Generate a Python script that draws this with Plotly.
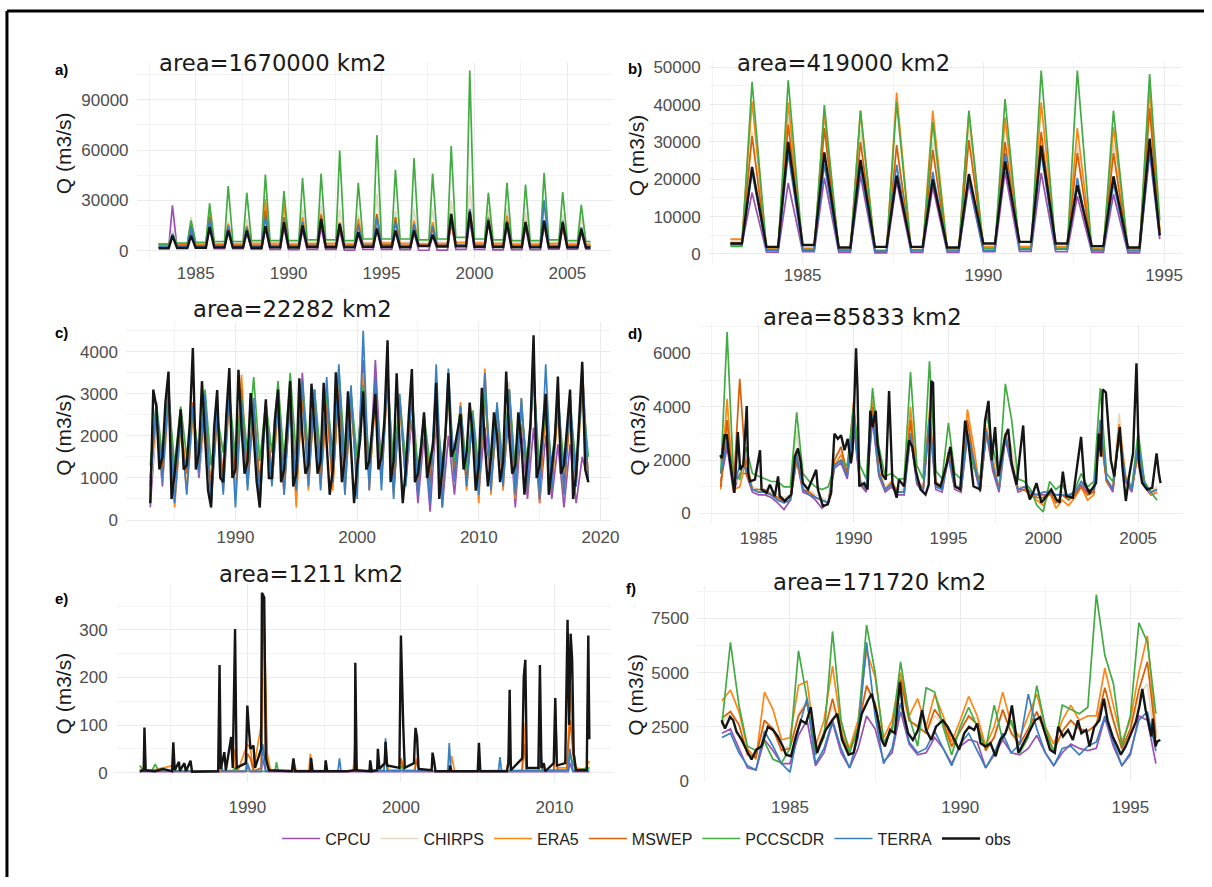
import numpy as np
import plotly.graph_objects as go

W, H = 1212, 887

SERIES = ["CPCU", "CHIRPS", "ERA5", "MSWEP", "PCCSCDR", "TERRA", "obs"]
COLORS = ["#9b51b0", "#e2d9c6", "#ff8614", "#d95f02", "#42ab42", "#3a7fc1", "#151515"]
WIDTHS = [1.7, 1.7, 1.7, 1.7, 1.7, 1.7, 2.4]

# ---------------- panel a (annual low / peak readings) ----------------
A_YEARS = list(range(1983, 2006))
A_PEAK_CPCU = [27000,12000,15000,12000,11000,14000,14000,12000,14000,12000,10000,14000,12000,11000,9000,17000,18000,21000,15000,14000,15000,14000,11000]
A_LOW_CPCU = [2500,1500,1500,1200,1200,1000,800,600,800,800,400,800,800,600,300,400,800,800,500,600,600,1000,1000,1000]
A_PEAK_CHIRPS = [12000,20000,25000,18000,19000,27000,27000,25000,27000,25000,22000,34000,24000,25000,25000,30000,39000,25000,25000,23000,27000,22000,20000]
A_LOW_CHIRPS = [4200,4000,4200,4500,4500,4800,4800,4500,5000,4800,4500,5000,5200,5000,4500,5000,5500,5200,5000,4800,4800,5000,4800,4500]
A_PEAK_ERA5 = [9000,17000,24800,16000,15000,31000,28000,20000,22000,17000,19000,21000,19000,18000,17000,17000,24000,20000,21000,18000,17000,15000,12000]
A_LOW_ERA5 = [4000,3500,3800,4000,4000,4200,4200,4000,4300,4200,4000,4300,4500,4200,4000,4300,4800,4500,4200,4000,4000,4200,4000,3800]
A_PEAK_MSWEP = [8000,16000,20000,14000,13000,24000,20000,17000,21000,15000,16000,22000,20000,16000,13000,16000,22000,19000,18000,16000,16000,14000,12000]
A_LOW_MSWEP = [3500,3000,3000,3200,3000,3200,3200,3000,3300,3200,3000,3300,3500,3200,3000,3300,3600,3400,3200,3000,3000,3200,3000,2800]
A_PEAK_PCC = [10000,18000,28200,38500,34600,45400,35600,43400,46000,59700,40500,68900,48300,55200,46000,62400,107400,34600,40500,39500,46400,35000,27400]
A_LOW_PCC = [4000,4500,5000,5500,5500,6000,6000,6000,6500,6500,6000,7000,7000,7000,6500,7000,8000,7000,6500,6000,6000,6500,6000,5500]
A_PEAK_TERRA = [10000,14000,18000,15000,14000,20000,18000,17000,19000,16000,15000,20000,17000,16000,15000,22000,25000,19000,18000,17000,30000,18000,14000]
A_LOW_TERRA = [2500,2500,2600,2800,2700,2800,2800,2600,3000,2900,2700,3000,3000,2900,2700,3000,3300,3000,2900,2700,2700,2900,2700,2500]
A_PEAK_OBS = [9000,9000,14100,12100,12100,14700,17000,15100,19000,16000,11100,13100,12100,12100,9500,21900,23300,18000,17000,17000,18000,17000,13100]
A_LOW_OBS = [1500,1600,1800,2000,1900,1800,2000,1900,2200,2100,2000,2300,2200,2100,2800,2500,2600,2400,2200,2100,2000,2100,2000,1900]

# ---------------- panel b (annual low / peak readings, last low = end value) ----------------
B_YEARS = list(range(1983, 1995))
B_PEAK_CPCU = [16400,19000,20400,21000,19500,18000,19000,22000,21700,15500,16000,27000]
B_LOW_CPCU = [2500,500,600,400,300,400,400,600,700,600,400,300,4000]
B_PEAK_CHIRPS = [32700,37000,33000,33500,28300,30000,34400,35300,31800,29200,29200,39700]
B_LOW_CHIRPS = [3500,1500,1500,1200,1000,1200,1500,2000,2000,2000,1500,1500,6000]
B_PEAK_ERA5 = [40800,40600,37500,38400,43200,38400,37900,36600,40600,33700,34000,44300]
B_LOW_ERA5 = [4000,1500,1500,1200,1000,1200,1500,2000,2000,2000,1500,1500,6500]
B_PEAK_MSWEP = [31600,34600,33700,30000,29200,27800,30500,30000,32700,27000,27000,39000]
B_LOW_MSWEP = [3000,1000,1200,1000,800,1000,1000,1500,1500,1500,1000,1000,6000]
B_PEAK_PCC = [46100,46500,39900,38400,40600,35300,38400,41500,49100,49100,38400,48200]
B_LOW_PCC = [2000,1200,1200,1000,800,1000,1000,1500,1500,1500,1200,1000,9000]
B_PEAK_TERRA = [22000,27000,24000,23000,23900,22000,20000,27000,27000,20400,19000,28000]
B_LOW_TERRA = [2500,1000,1000,800,700,800,800,1000,1200,1200,800,800,5000]
B_PEAK_OBS = [23300,30000,27200,25200,21000,20000,21400,24800,29000,18450,20800,30900]
B_LOW_OBS = [2800,1900,2400,1750,1900,1900,1750,2800,3250,2800,2100,1750,5000]

# ---------------- panel c (half-yearly readings from 1983.0; obs quarterly) ----------------
C_START = 1983.0
C_CPCU = [300,2400,800,3300,700,2200,900,2600,1000,2500,600,2400,900,3100,800,2900,900,2700,700,2600,900,2700,700,3000,800,3500,900,3100,900,2900,800,3300,800,3000,1000,3800,800,3800,1100,3700,700,2800,900,2400,400,2000,200,2400,300,2000,600,2300,1000,2400,700,2200,900,2300,1000,2500,300,2300,500,2200,400,2000,500,1800,300,1800,400,1500,900]
C_CHIRPS = [700,2200,900,2500,700,2100,900,2300,1100,2400,700,2200,900,2600,900,2700,900,2500,800,2400,1000,2500,900,2600,900,2700,1000,2700,1000,2600,1000,2900,900,2500,1100,3000,1000,2700,1100,3000,900,2600,1000,2700,900,2300,800,2600,1000,2800,1200,2800,1000,2400,900,2900,900,2500,1000,3300,800,2600,900,3300,700,2500,900,2500,800,2400,900,3000,1000]
C_ERA5 = [900,2400,1000,2800,300,2200,700,2500,1200,2600,500,2400,700,3000,600,3450,800,2600,700,2800,900,2600,600,2900,300,3200,700,3000,800,2700,700,3300,600,2900,800,3500,700,3000,900,3300,600,2900,900,3000,700,2400,800,2900,600,3100,900,2800,700,2600,400,3600,600,2700,700,3000,500,2900,700,3800,400,2800,700,2600,600,2500,800,3700,900]
C_MSWEP = [1000,2600,1200,2900,900,2300,1100,2800,1300,2700,700,2500,1000,2900,1100,3100,1000,2700,900,2600,1100,2700,900,2800,900,2900,1000,2900,1000,2800,900,3100,900,2700,1100,3200,1000,2900,1000,3300,800,2800,1000,2900,1000,2500,900,2800,1000,3000,1200,2600,900,2500,800,3000,900,2600,1000,3100,900,2700,1000,3500,800,2600,1000,2700,800,2600,1000,3100,1000]
C_PCC = [1300,2800,1500,3000,1300,2700,1500,2600,1500,3100,1300,2500,1600,3000,1500,2900,1600,3400,1400,2800,1600,3300,1400,3500,1500,3300,1600,3100,1500,3000,1600,3600,1500,3000,1500,3200,1400,2900,1400,3300,1300,2900,1400,3000,1200,2500,1300,2700,1300,2900,1400,2700,1200,2600,1200,3000,1300,2700,1300,3100,1200,2600,1300,3400,1200,2700,1300,2900,1300,2700,1300,3100,1500]
C_TERRA = [800,2800,900,3000,400,2300,600,2700,1100,3000,300,2600,600,3100,300,2800,700,2900,300,2700,800,3000,600,2900,700,3300,800,3100,700,3400,900,3700,600,3200,500,4500,700,3400,700,3500,500,3000,800,3100,600,2500,400,3700,300,3600,900,2700,800,2500,600,3500,700,2800,800,3100,600,2900,700,3600,500,3700,700,3200,600,3000,800,3600,900]
C_OBS = [400,3100,2700,1200, 1500,2800,3530,500, 1100,1800,2630,1200, 1300,2300,4090,1200,
         1600,3300,1900,700, 300,2200,3090,1000, 900,2500,3610,1000, 1200,3570,2200,1100,
         1400,3020,2000,900, 300,1800,2870,1000, 1000,2400,3100,900, 1200,2200,3300,800,
         1100,3370,2000,1100, 1300,3240,2200,1100, 1400,3260,1800,600, 1200,3510,2400,900,
         1500,3060,1700,400, 1300,1900,3060,1200, 1400,2200,3000,1200, 1500,2400,4270,900,
         1400,3490,1700,400, 1200,2500,3590,900, 1100,1700,2560,1000, 1400,1800,3260,500,
         1200,2000,3490,1500, 1700,2100,2520,1200, 1600,2790,2000,700, 1300,3140,1800,800,
         1500,2560,2000,900, 1400,3530,2000,1100, 1300,2560,1800,600, 1500,2300,4390,1000,
         1300,2200,3000,600, 1200,1900,3410,1100, 1300,2200,3100,500, 1100,2400,3760,1200, 900]

# ---------------- panel d (readings every 4 months from 1983.0; obs at read dates) ----------------
D_START = 1983.0
D_CPCU = [1200,2500,800,1500,1500,800,700,700,600,400,150,500,2000,800,700,500,200,400,1700,1900,1300,3300,1100,800,3500,1400,800,1000,700,700,2900,1100,800,3400,900,800,2100,900,800,2900,1800,800,3000,1600,800,2800,1700,800,900,700,700,700,700,700,700,700,700,1100,800,800,3300,1200,800,3000,1200,800,2400,1000,700,800]
D_CHIRPS = [2000,3300,1100,1300,2200,1000,900,900,800,700,600,700,3100,1000,900,700,600,500,2200,2300,1500,3800,1300,1000,4500,1700,1000,1200,900,900,3700,1300,1000,4000,1200,1000,2400,1100,1000,3300,2200,1000,3300,2200,1000,3000,2500,1000,1000,800,700,800,900,700,800,700,800,1200,900,900,3500,1300,1000,3750,1500,1000,2500,1200,800,1000]
D_ERA5 = [900,4300,900,1000,2000,900,800,800,700,600,500,600,2300,900,800,600,500,400,1800,2200,1500,4200,1200,900,4200,1600,900,1200,800,800,4000,1300,900,3800,1200,900,2300,1000,900,3900,2500,900,3200,2000,900,3000,2000,900,900,700,500,300,800,200,500,300,600,1000,500,700,3300,1200,900,3350,1400,900,2400,1200,700,800]
D_MSWEP = [1000,3500,900,5050,1500,900,900,900,700,600,400,500,2000,900,800,600,500,400,2000,2500,1500,4000,1200,900,4000,1500,900,1100,800,800,3500,1200,900,3600,1100,900,2300,1000,900,3500,2000,900,3000,1800,900,3000,1800,900,900,700,600,600,800,400,700,500,700,1000,700,800,3000,1200,900,3200,1300,900,2300,1100,800,900]
D_PCC = [1500,6800,1500,1300,2500,1500,1400,1300,1200,1200,1000,1000,3790,1500,1200,1000,900,1000,1800,2000,1800,4000,1800,1300,4700,2500,1400,1500,1300,1300,5300,1800,1300,5700,1600,1300,3400,1500,1300,3000,1700,1300,3790,2500,1400,4860,3500,1300,1200,900,300,60,1200,900,1100,600,900,1500,1000,1200,4690,1500,1200,2800,1300,1000,3050,1200,800,500]
D_TERRA = [1500,2700,1000,1800,1700,900,800,800,700,500,400,500,2200,900,700,600,500,400,1800,2000,1400,3500,1200,900,3700,1500,900,1100,800,800,3000,1200,900,3600,1000,900,2200,1000,900,3000,2000,900,3100,1800,900,2900,1800,900,1000,800,700,800,800,700,700,700,800,1200,900,900,3500,1300,900,3000,1300,900,2600,1100,800,900]
D_OBS_T = [1982.97,1983.06,1983.20,1983.32,1983.41,1983.58,1983.72,1983.90,1984.02,1984.19,
           1984.37,1984.45,1984.54,1984.80,1985.07,1985.15,1985.41,1985.59,1985.85,1986.02,
           1986.11,1986.37,1986.72,1986.90,1987.07,1987.21,1987.33,1987.60,1988.03,1988.12,
           1988.38,1988.64,1988.82,1988.99,1989.17,1989.34,1989.52,1989.69,1989.86,1989.95,
           1990.13,1990.21,1990.30,1990.56,1990.74,1990.88,1991.00,1991.17,1991.26,1991.52,
           1991.70,1991.87,1992.05,1992.27,1992.39,1992.66,1992.92,1993.09,1993.27,1993.53,
           1993.79,1993.96,1994.09,1994.19,1994.31,1994.58,1994.92,1995.10,1995.36,1995.62,
           1995.88,1996.06,1996.32,1996.67,1996.93,1997.11,1997.28,1997.46,1997.63,1997.98,
           1998.15,1998.33,1998.59,1998.94,1999.11,1999.29,1999.46,1999.64,1999.90,2000.16,
           2000.42,2000.68,2000.86,2001.03,2001.21,2001.56,2001.99,2002.17,2002.43,2002.78,
           2002.92,2003.04,2003.13,2003.30,2003.56,2003.74,2004.03,2004.17,2004.35,2004.52,
           2004.73,2004.91,2005.04,2005.21,2005.48,2005.74,2005.97,2006.09,2006.18]
D_OBS_V = [2190,2070,2930,2930,2370,1510,775,3050,1640,1820,
           4030,1510,1200,1270,2370,900,775,1080,650,1390,
           650,470,710,2130,2435,1940,1140,900,1640,900,
           280,345,775,2990,2800,2930,2370,2800,1880,2370,
           6190,4590,1020,1140,900,3850,3235,3850,2610,1450,
           1270,4590,1140,590,1270,1020,2740,2500,1640,900,
           710,1080,4960,4900,1140,1020,1880,2500,1020,900,
           3480,2620,1020,900,3480,4220,1990,3235,1390,2870,
           3170,1880,1080,3300,1020,530,775,1140,410,650,
           900,530,410,1570,650,590,2870,1140,775,1140,
           2990,2130,4650,4530,2000,1390,3235,1760,470,1390,
           2250,5630,1880,1140,900,960,2250,1510,1140]

# ---------------- panel e (read dates / values) ----------------
E_CPCU_T = [1983.0,1989.9,1990.0,1990.2,1990.9,1991.0,1991.2,2010.9,2011.0,2011.2,2012.27]
E_CPCU_V = [2,2,10,2,2,30,2,2,20,2,2]
E_CHIRPS_T = [1983.0,1990.9,1991.0,1991.1,1991.3,1991.5,2010.9,2011.05,2011.2,2011.4,2012.27]
E_CHIRPS_V = [3,5,100,200,10,3,5,150,60,5,10]
E_ERA5_T = [1983.0,1983.3,1983.5,1985.2,1985.4,1988.1,1988.2,1988.3,1989.1,1989.2,
            1989.4,1990.0,1990.2,1990.4,1990.9,1991.0,1991.1,1991.25,1991.5,1992.9,
            1993.0,1993.2,1994.0,1994.1,1994.2,1996.9,1997.0,1997.15,1998.9,1999.0,
            1999.2,1999.9,2000.0,2000.2,2000.9,2001.0,2001.2,2003.2,2003.3,2003.5,
            2006.9,2007.0,2007.2,2007.9,2008.0,2008.15,2009.0,2009.1,2009.3,2009.95,
            2010.05,2010.2,2010.8,2010.9,2011.05,2011.2,2011.4,2012.1,2012.2,2012.27]
E_ERA5_V = [5,10,3,15,3,3,50,3,5,50,
            5,60,50,5,100,340,300,50,5,3,
            25,3,3,40,3,3,60,3,5,40,
            5,5,30,5,5,30,5,3,35,3,
            3,35,3,5,105,5,5,30,3,5,
            150,10,10,90,180,60,10,5,25,20]
E_MSWEP_T = [1983.0,1985.1,1985.2,1985.3,1988.1,1988.2,1988.3,1989.9,1990.0,1990.2,
             1990.4,1990.9,1990.95,1991.05,1991.15,1991.3,1991.5,1996.9,1997.0,1997.2,
             1999.9,2000.0,2000.2,2000.9,2001.0,2001.2,2007.9,2008.0,2008.2,2009.95,
             2010.05,2010.2,2010.8,2010.9,2011.05,2011.2,2011.4,2012.27]
E_MSWEP_V = [3,3,10,3,3,30,3,3,40,30,
             3,10,150,360,250,20,3,3,30,3,
             3,30,3,3,25,3,3,60,3,3,
             80,5,5,60,110,40,5,10]
E_PCC_T = [1983.0,1983.2,1983.8,1984.0,1984.2,1985.9,1986.0,1986.2,1988.1,1988.2,
           1988.4,1989.1,1989.2,1989.4,1991.8,1991.9,1992.0,1999.9,2000.0,2000.2,
           2010.9,2011.0,2011.15,2011.4,2012.27]
E_PCC_V = [15,5,5,18,5,3,10,3,3,20,
           3,3,10,3,3,22,5,3,15,3,
           5,40,25,5,10]
E_TERRA_T = [1983.0,1988.1,1988.2,1988.4,1989.9,1990.0,1990.2,1990.9,1991.0,1991.2,
             1995.9,1996.0,1996.1,1998.9,1999.0,1999.1,2003.05,2003.15,2003.25,2006.35,
             2006.45,2006.55,2009.0,2009.1,2009.2,2010.9,2011.0,2011.2,2012.27]
E_TERRA_V = [3,3,30,3,3,20,3,3,60,3,
             3,30,3,5,72,5,3,62,3,3,
             33,3,5,55,5,5,50,5,5]
E_OBS_T = [1983.0,1983.25,1983.3,1983.38,1984.0,1984.5,1985.1,1985.18,1985.27,1985.55,
           1985.6,1985.9,1986.0,1986.3,1986.4,1987.5,1988.1,1988.19,1988.27,1988.5,
           1988.6,1988.95,1989.05,1989.2,1989.3,1989.9,1990.0,1990.1,1990.2,1990.4,
           1990.5,1990.9,1990.95,1991.1,1991.2,1991.4,1992.9,1993.0,1993.1,1994.1,
           1994.15,1994.25,1995.05,1995.1,1995.2,1996.5,1997.0,1997.03,1997.12,1997.95,
           1998.0,1998.1,1998.45,1998.5,1998.6,1998.95,1999.0,1999.1,1999.9,2000.0,
           2000.08,2000.15,2000.25,2000.85,2000.9,2000.95,2001.05,2001.15,2002.0,2002.06,
           2002.15,2002.25,2003.15,2003.2,2003.3,2005.0,2005.08,2005.17,2006.9,2007.0,
           2007.08,2007.16,2007.9,2008.0,2008.1,2008.2,2008.95,2009.05,2009.15,2009.3,
           2009.4,2009.95,2010.05,2010.15,2010.7,2010.85,2010.95,2011.05,2011.15,2011.25,
           2011.4,2012.1,2012.2,2012.27]
E_OBS_V = [3,5,95,5,3,8,3,64,5,23,
           4,20,3,25,2,2,3,226,8,43,
           5,75,10,302,10,20,141,92,50,57,
           10,50,378,368,30,5,3,30,3,3,
           31,3,3,26,3,3,5,231,5,3,
           26,3,5,50,8,20,65,15,10,288,
           160,99,10,20,63,94,74,8,5,42,
           26,3,3,15,3,3,63,3,3,20,
           174,5,30,202,237,10,10,226,10,20,
           3,20,157,15,20,321,100,292,237,40,
           5,5,288,70]

# ---------------- panel f (quarterly readings from 1983.0; obs at read dates) ----------------
F_START = 1983.0
F_CPCU = [2200,2400,1500,600, 500,1900,1400,800, 800,2100,2800,700, 1300,2700,1300,600, 1500,3000,2400,900, 1300,3200,1700,1200, 1300,2000,1500,800, 1600,1900,1800,600, 1200,1900,1300,1200, 1500,2100,1300,700, 1300,1700,1500,1400, 1500,2900,1600,700, 1200,3000,2800,800]
F_CHIRPS = [2700,3100,2600,1200, 1200,2700,2500,1500, 1600,3100,3700,1300, 2300,3500,2300,1300, 2400,4300,3500,1700, 2300,4300,2700,2600, 2200,3000,2600,1500, 2500,2900,2900,1400, 2100,3100,2300,1700, 2400,3100,2300,1300, 2300,2700,2400,2300, 2500,3800,2700,1400, 2200,3900,4500,1300]
F_ERA5 = [3700,4200,3200,1500, 1000,4100,3300,1900, 2000,4400,4600,1600, 2800,5300,2500,1500, 2800,6000,4800,2000, 2800,5000,3000,3800, 2500,4000,3000,1800, 2800,3900,3000,1600, 2500,4100,2600,2000, 3000,4000,2500,1700, 2800,3500,2800,3000, 3000,5200,3500,1800, 2800,5000,6700,2200]
F_MSWEP = [2900,3200,2600,1200, 1100,2800,2400,1400, 1500,3000,3600,1300, 2200,3800,2200,1300, 2500,4400,3600,1700, 2500,4700,2800,2500, 2200,3300,2700,1600, 2300,3000,2600,1400, 2000,3300,2200,1700, 2400,3200,2200,1400, 2300,2800,2400,2300, 2600,4300,2800,1500, 2400,4200,5500,2000]
F_PCC = [2600,6400,3500,1600, 1400,1800,1000,830, 1500,6000,3800,1200, 2000,6900,2800,1300, 2500,7200,5000,1800, 2300,5500,3000,1600, 4300,4100,2500,1200, 2500,3400,2500,1500, 3500,1900,2800,1300, 2000,4400,2500,1300, 3500,3300,3100,3400, 8600,5800,4500,1600, 3000,7300,6400,3100]
F_TERRA = [2000,2200,1300,700, 500,2300,1600,800, 400,2400,3800,800, 1500,2800,1500,600, 2000,6400,3000,800, 1500,3600,1800,1300, 1500,2300,1500,700, 1700,2200,1400,600, 1300,2200,1300,1700, 4000,2400,1300,700, 1500,1600,1200,1600, 1800,3000,1800,700, 1300,2800,3200,1400]
F_OBS_T = [1982.99,1983.09,1983.24,1983.33,1983.43,1983.58,1983.72,1983.87,1984.01,1984.16,
           1984.35,1984.50,1984.64,1984.79,1984.88,1985.03,1985.17,1985.32,1985.47,1985.61,
           1985.71,1985.80,1985.90,1986.05,1986.24,1986.39,1986.53,1986.72,1986.87,1986.97,
           1987.11,1987.29,1987.40,1987.55,1987.69,1987.79,1987.94,1988.08,1988.23,1988.32,
           1988.47,1988.61,1988.76,1988.88,1989.00,1989.15,1989.29,1989.49,1989.63,1989.83,
           1989.97,1990.12,1990.26,1990.41,1990.50,1990.60,1990.75,1990.89,1991.04,1991.18,
           1991.33,1991.42,1991.52,1991.62,1991.71,1991.86,1992.01,1992.20,1992.35,1992.49,
           1992.64,1992.78,1992.88,1993.02,1993.17,1993.31,1993.46,1993.56,1993.70,1993.80,
           1993.94,1994.09,1994.22,1994.33,1994.48,1994.62,1994.72,1994.86,1995.01,1995.16,
           1995.27,1995.35,1995.45,1995.54,1995.62,1995.66,1995.74,1995.79,1995.88]
F_OBS_V = [2800,2420,2950,2800,2270,1890,1440,985,1440,1590,
           2500,2350,2050,1590,1210,1140,2050,2800,2650,3410,
           2200,1290,1740,2350,2800,3100,1890,1210,1290,2050,
           3100,3710,4020,3100,1890,1590,2350,2200,4550,3260,
           2200,1890,2350,3260,2350,1890,2500,2800,2500,1890,
           1440,2200,2500,2350,2650,1740,1590,1740,1140,1890,
           2200,2650,3480,2350,1290,1740,2200,2800,2950,2200,
           1440,1290,2500,2050,2350,1890,2800,2200,2350,1590,
           2500,2800,3790,2800,2050,1590,1210,1590,2200,2720,
           3480,4240,3260,2650,2050,2880,1590,1820,1890]

# ---------------- axis ticks and titles ----------------
A_XTICKS = [1985, 1990, 1995, 2000, 2005]
A_YTICKS = [0, 30000, 60000, 90000]
B_XTICKS = [1985, 1990, 1995]
B_YTICKS = [0, 10000, 20000, 30000, 40000, 50000]
C_XTICKS = [1990, 2000, 2010, 2020]
C_YTICKS = [0, 1000, 2000, 3000, 4000]
D_XTICKS = [1985, 1990, 1995, 2000, 2005]
D_YTICKS = [0, 2000, 4000, 6000]
E_XTICKS = [1990, 2000, 2010]
E_YTICKS = [0, 100, 200, 300]
F_XTICKS = [1985, 1990, 1995]
F_YTICKS = [0, 2500, 5000, 7500]
AREA_TEXT = ["area=1670000 km2", "area=419000 km2", "area=22282 km2",
             "area=85833 km2", "area=1211 km2", "area=171720 km2"]
TAGS = ["a)", "b)", "c)", "d)", "e)", "f)"]
Y_TITLE = "Q (m3/s)"


# ---------------- builders ----------------
def build_a(lows, peaks):
    t, v = [], []
    for i, y in enumerate(A_YEARS):
        t += [y + 0.0, y + 0.55, y + 0.75]
        v += [lows[i], lows[i], peaks[i]]
    n = len(A_YEARS)
    t += [A_YEARS[-1] + 1.0, A_YEARS[-1] + 1.25]
    v += [lows[n], lows[n]]
    return t, v


def build_b(lows, peaks):
    t, v = [], []
    for i, y in enumerate(B_YEARS):
        t += [y + 0.0, y + 0.32, y + 0.6]
        v += [lows[i], lows[i], peaks[i]]
    t += [B_YEARS[-1] + 0.88]
    v += [lows[len(B_YEARS)]]
    return t, v


def grid(start, step, vals):
    return list(start + step * np.arange(len(vals))), list(vals)


def pairs(t, v):
    n = min(len(t), len(v))
    return list(t[:n]), list(v[:n])


DATA = {
    "a": [build_a(A_LOW_CPCU, A_PEAK_CPCU), build_a(A_LOW_CHIRPS, A_PEAK_CHIRPS),
          build_a(A_LOW_ERA5, A_PEAK_ERA5), build_a(A_LOW_MSWEP, A_PEAK_MSWEP),
          build_a(A_LOW_PCC, A_PEAK_PCC), build_a(A_LOW_TERRA, A_PEAK_TERRA),
          build_a(A_LOW_OBS, A_PEAK_OBS)],
    "b": [build_b(B_LOW_CPCU, B_PEAK_CPCU), build_b(B_LOW_CHIRPS, B_PEAK_CHIRPS),
          build_b(B_LOW_ERA5, B_PEAK_ERA5), build_b(B_LOW_MSWEP, B_PEAK_MSWEP),
          build_b(B_LOW_PCC, B_PEAK_PCC), build_b(B_LOW_TERRA, B_PEAK_TERRA),
          build_b(B_LOW_OBS, B_PEAK_OBS)],
    "c": [grid(C_START, 0.5, C_CPCU), grid(C_START, 0.5, C_CHIRPS), grid(C_START, 0.5, C_ERA5),
          grid(C_START, 0.5, C_MSWEP), grid(C_START, 0.5, C_PCC), grid(C_START, 0.5, C_TERRA),
          grid(C_START, 0.25, C_OBS)],
    "d": [grid(D_START, 1 / 3, D_CPCU), grid(D_START, 1 / 3, D_CHIRPS), grid(D_START, 1 / 3, D_ERA5),
          grid(D_START, 1 / 3, D_MSWEP), grid(D_START, 1 / 3, D_PCC), grid(D_START, 1 / 3, D_TERRA),
          pairs(D_OBS_T, D_OBS_V)],
    "e": [pairs(E_CPCU_T, E_CPCU_V), pairs(E_CHIRPS_T, E_CHIRPS_V), pairs(E_ERA5_T, E_ERA5_V),
          pairs(E_MSWEP_T, E_MSWEP_V), pairs(E_PCC_T, E_PCC_V), pairs(E_TERRA_T, E_TERRA_V),
          pairs(E_OBS_T, E_OBS_V)],
    "f": [grid(F_START, 0.25, F_CPCU), grid(F_START, 0.25, F_CHIRPS), grid(F_START, 0.25, F_ERA5),
          grid(F_START, 0.25, F_MSWEP), grid(F_START, 0.25, F_PCC), grid(F_START, 0.25, F_TERRA),
          pairs(F_OBS_T, F_OBS_V)],
}

# ---------------- layout geometry (pixels) ----------------
PANELS = [
    dict(key="a", px=(137.5, 616.0), py=(59.0, 259.0), xr=(1981.82, 2007.40), yr=(-4870, 112473),
         xt=A_XTICKS, yt=A_YTICKS, xso=2, area=(159.5, 60), tag=(54, 67), ytl=(64, 152)),
    dict(key="b", px=(713.4, 1190.0), py=(59.0, 263.0), xr=(1982.4, 1995.5), yr=(-2372, 51397),
         xt=B_XTICKS, yt=B_YTICKS, xso=0, area=(740.5, 60), tag=(631, 66), ytl=(641, 154)),
    dict(key="c", px=(126.75, 615.5), py=(323.0, 526.0), xr=(1981.0, 2020.9), yr=(-40, 4709),
         xt=C_XTICKS, yt=C_YTICKS, xso=3, area=(193.5, 310), tag=(54, 334), ytl=(64, 438)),
    dict(key="d", px=(703.4, 1190.8), py=(325.5, 527.0), xr=(1981.84, 2007.36), yr=(-343, 7087),
         xt=D_XTICKS, yt=D_YTICKS, xso=3, area=(767, 318.5), tag=(631, 335), ytl=(641, 438)),
    dict(key="e", px=(116.5, 616.0), py=(589.0, 790.0), xr=(1981.43, 2013.74), yr=(-18.6, 397),
         xt=E_XTICKS, yt=E_YTICKS, xso=13, area=(219.8, 579), tag=(54, 604), ytl=(64, 701)),
    dict(key="f", px=(701.7, 1190.3), py=(591.0, 789.6), xr=(1982.27, 1996.53), yr=(-12, 9014),
         xt=F_XTICKS, yt=F_YTICKS, xso=14, area=(777.5, 587), tag=(629, 594), ytl=(640, 702)),
]

TICK_FONT = dict(family="Liberation Sans, Arial, sans-serif", size=17, color="#4d4d4d")
GRID_MAJOR = "#ebebeb"
GRID_MINOR = "#f3f3f3"


def minor_vals(majors, lo, hi):
    step = majors[1] - majors[0]
    out = []
    m = majors[0] - step / 2.0
    while m <= hi:
        if m >= lo:
            out.append(m)
        m += step
    return out


fig = go.Figure()
layout = dict(width=W, height=H, margin=dict(l=0, r=0, t=0, b=0),
              paper_bgcolor="white", plot_bgcolor="white", showlegend=True)
annotations = []

for idx, p in enumerate(PANELS):
    sfx = "" if idx == 0 else str(idx + 1)
    xname, yname = "x" + sfx, "y" + sfx
    l, r = p["px"]
    t, b = p["py"]
    layout["xaxis" + sfx] = dict(
        domain=[l / W, r / W], range=list(p["xr"]), anchor=yname,
        tickmode="array", tickvals=p["xt"], ticktext=[str(v) for v in p["xt"]],
        showgrid=True, gridcolor=GRID_MAJOR, gridwidth=1.2, zeroline=False, showline=False,
        ticks="", tickfont=TICK_FONT, ticklabelstandoff=p["xso"], fixedrange=True,
        minor=dict(tickmode="array", tickvals=minor_vals(p["xt"], *p["xr"]),
                   showgrid=True, gridcolor=GRID_MINOR, gridwidth=0.7),
    )
    layout["yaxis" + sfx] = dict(
        domain=[1 - b / H, 1 - t / H], range=list(p["yr"]), anchor=xname,
        tickmode="array", tickvals=p["yt"], ticktext=[str(v) for v in p["yt"]],
        showgrid=True, gridcolor=GRID_MAJOR, gridwidth=1.2, zeroline=False, showline=False,
        ticks="", tickfont=TICK_FONT, ticklabelstandoff=7, fixedrange=True,
        minor=dict(tickmode="array", tickvals=minor_vals(p["yt"], *p["yr"]),
                   showgrid=True, gridcolor=GRID_MINOR, gridwidth=0.7),
    )
    for si, name in enumerate(SERIES):
        tx, vy = DATA[p["key"]][si]
        fig.add_trace(go.Scatter(
            x=tx, y=vy, mode="lines", name=name, legendgroup=name,
            showlegend=(idx == 0), xaxis=xname, yaxis=yname,
            line=dict(color=COLORS[si], width=WIDTHS[si]), hoverinfo="skip",
        ))
    ax, ay = p["area"]
    annotations.append(dict(text=AREA_TEXT[idx], x=ax / W, y=1 - ay / H, xref="paper", yref="paper",
                            xanchor="left", yanchor="middle", showarrow=False, borderpad=0,
                            font=dict(family="DejaVu Sans", size=22.7, color="#1a1a1a")))
    gx, gy = p["tag"]
    annotations.append(dict(text="<b>" + TAGS[idx] + "</b>", x=gx / W, y=1 - gy / H,
                            xref="paper", yref="paper", xanchor="left", yanchor="middle",
                            showarrow=False, borderpad=0,
                            font=dict(family="Liberation Sans, Arial", size=15, color="#000000")))
    qx, qy = p["ytl"]
    annotations.append(dict(text=Y_TITLE, x=qx / W, y=1 - qy / H, xref="paper", yref="paper",
                            xanchor="center", yanchor="middle", textangle=-90, showarrow=False,
                            borderpad=0,
                            font=dict(family="Liberation Sans, Arial", size=21, color="#1a1a1a")))

layout["annotations"] = annotations
layout["legend"] = dict(orientation="h", x=279 / W, xanchor="left", y=1 - 848 / H, yanchor="middle",
                        font=dict(family="Liberation Sans, Arial", size=16, color="#222222"),
                        itemwidth=38, bgcolor="rgba(0,0,0,0)", traceorder="normal")
layout["shapes"] = [
    dict(type="line", xref="paper", yref="paper", x0=7 / W, x1=1.0, y0=1 - 7 / H, y1=1 - 7 / H,
         line=dict(color="black", width=3)),
    dict(type="line", xref="paper", yref="paper", x0=7 / W, x1=7 / W, y0=0.0, y1=1 - 7 / H,
         line=dict(color="black", width=3)),
]
layout["hovermode"] = False
fig.update_layout(**layout)

fig.write_html("out.html", config={"displayModeBar": False},
               post_script="document.body.style.margin='0';document.body.style.padding='0';")
